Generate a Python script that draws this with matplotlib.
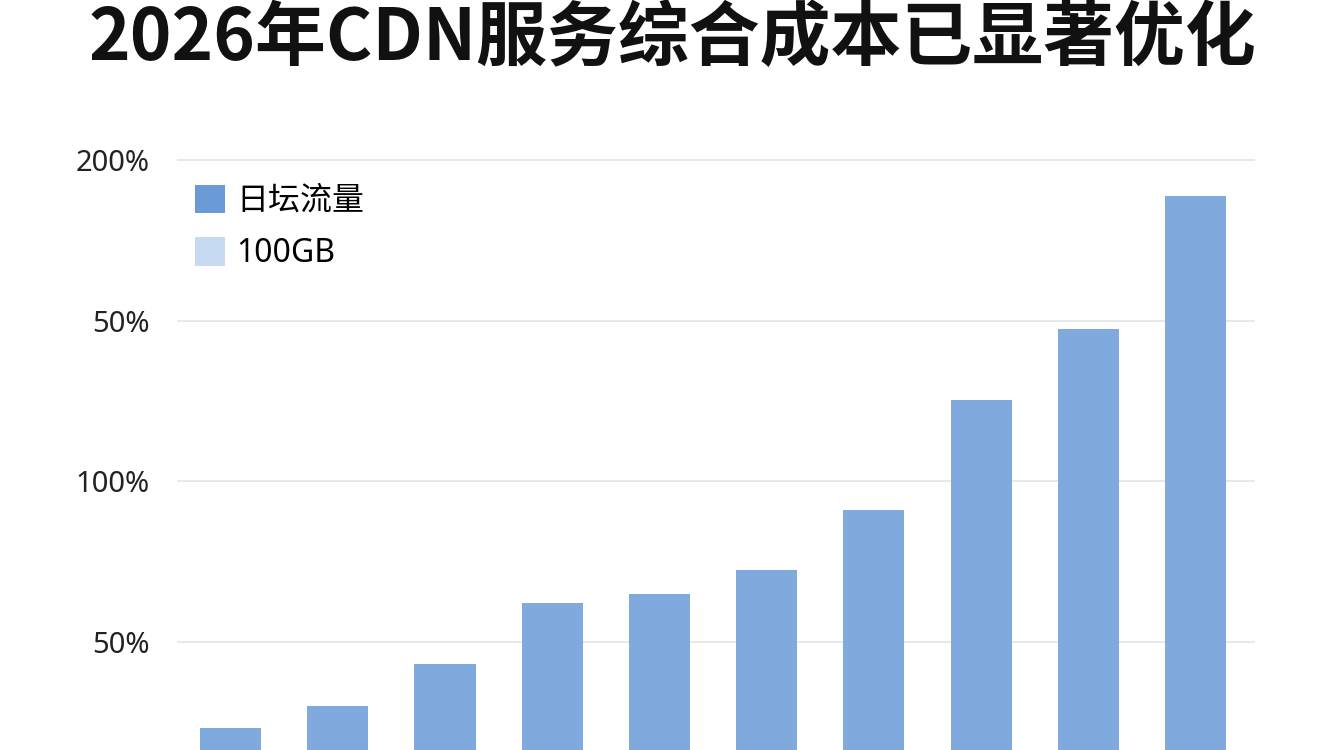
import matplotlib.pyplot as plt
from matplotlib.patches import Patch

plt.rcParams['font.family'] = ['Noto Sans CJK SC', 'DejaVu Sans']

# data (tick labels are as printed on the chart)
title = "2026年CDN服务综合成本已显著优化"
bar_values = [23.2, 30.1, 43.2, 62.1, 64.9, 72.4, 91.1, 125.3, 147.4, 188.8]
tick_values = [50, 100, 150, 200]
tick_labels = ["50%", "100%", "50%", "200%"]
legend_labels = ["日坛流量", "100GB"]
legend_colors = ["#6A9BD7", "#C6DAF2"]
bar_color = "#80AADD"

latin_cjk = ['Noto Sans', 'Noto Sans CJK SC', 'DejaVu Sans']


def plot_chart():
    fig = plt.figure(figsize=(13.44, 7.5), dpi=100)
    ax = fig.add_axes([177 / 1344, 0.0, (1255 - 177) / 1344, 0.8])

    x = list(range(len(bar_values)))
    ax.bar(x, bar_values, width=0.57, color=bar_color, zorder=2)

    ax.set_xlim(-0.5, 9.555)
    ax.set_ylim(16.4, 203.1)

    ax.set_yticks(tick_values)
    ax.set_yticklabels(tick_labels, fontsize=21, color="#222222",
                       family=latin_cjk)
    ax.tick_params(axis="y", length=0, pad=20)
    ax.set_xticks([])
    ax.grid(axis="y", color="#E6E6E6", linewidth=1.3, zorder=0)
    for s in ax.spines.values():
        s.set_visible(False)

    handles = [Patch(facecolor=c, edgecolor="none") for c in legend_colors]
    ax.legend(handles, legend_labels, loc="upper left",
              bbox_to_anchor=(0.0167, 0.942), frameon=False,
              prop={'family': latin_cjk, 'size': 23},
              handlelength=0.95, handleheight=1.0,
              handletextpad=0.35, labelspacing=0.6,
              borderpad=0, borderaxespad=0)

    # the reference title sits right at the top edge; keep it just inside
    fig.text(0.5, 1 - 60 / 750, title, fontsize=51,
             fontweight="black", ha="center", va="baseline", color="#111111")

    plt.savefig("out.png", dpi=100, facecolor="white")


plot_chart()
